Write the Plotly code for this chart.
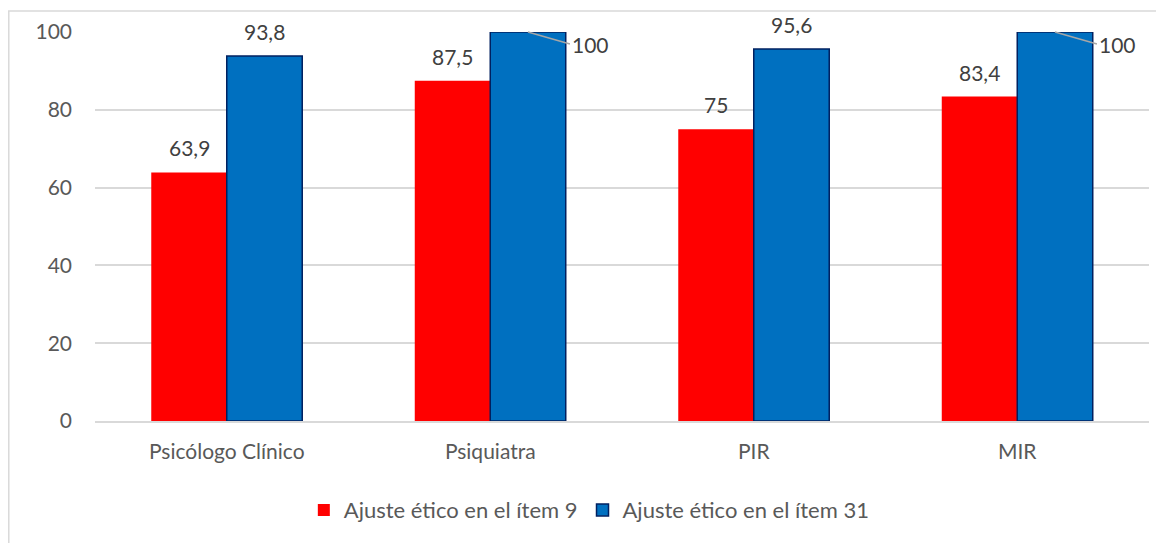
import plotly.graph_objects as go

categories = ["Psicólogo Clínico", "Psiquiatra", "PIR", "MIR"]
item9 = [63.9, 87.5, 75, 83.4]
item31 = [93.8, 100, 95.6, 100]
series_names = ["Ajuste ético en el ítem 9", "Ajuste ético en el ítem 31"]
y_ticks = [0, 20, 40, 60, 80, 100]

FONT = "Lato"
TXT = "#595959"

fig = go.Figure()
fig.add_trace(go.Bar(x=categories, y=item9, name=series_names[0],
                     marker=dict(color="#ff0000", line=dict(width=0))))
fig.add_trace(go.Bar(x=categories, y=item31, name=series_names[1],
                     marker=dict(color="#0070c0", line=dict(color="#002060", width=1.5))))

def fmt(v):
    return ("%g" % v).replace(".", ",")

annotations = []
for i, (a, b) in enumerate(zip(item9, item31)):
    for v, shift in ((a, -0.143), (b, 0.143)):
        if v >= 100:
            annotations.append(dict(x=i + shift, y=v, xref="x", yref="y", text=fmt(v),
                                    showarrow=True, arrowhead=0, arrowcolor="#a6a6a6", arrowwidth=1.5,
                                    ax=42, ay=12, xanchor="left", yanchor="middle",
                                    font=dict(family=FONT, size=21, color="#404040"),
                                    standoff=0, startstandoff=0))
        else:
            annotations.append(dict(x=i + shift, y=v, xref="x", yref="y", text=fmt(v),
                                    showarrow=False, yanchor="bottom", yshift=10,
                                    font=dict(family=FONT, size=21, color="#404040")))

fig.update_layout(
    width=1156, height=535,
    margin=dict(l=87, r=15, t=24, b=122, autoexpand=False),
    paper_bgcolor="white", plot_bgcolor="white",
    barmode="group", bargap=0.427, bargroupgap=0,
    font=dict(family=FONT, size=21, color=TXT),
    xaxis=dict(type="category", showgrid=False, showline=True, linecolor="#d9d9d9", linewidth=1.5,
               ticks="", tickfont=dict(size=21, color=TXT), range=[-0.5, 3.5],
               ticklabelstandoff=11),
    yaxis=dict(range=[0, 100], tickvals=y_ticks, showgrid=True, gridcolor="#d9d9d9", gridwidth=1.5,
               zeroline=False, ticks="", ticklen=0, tickfont=dict(size=21, color=TXT),
               ticklabelstandoff=22),
    legend=dict(orientation="h", x=0.469, xanchor="center", y=-0.229, yanchor="middle",
                font=dict(size=22, color=TXT), itemwidth=30, traceorder="normal"),
    annotations=annotations,
    shapes=[dict(type="rect", xref="paper", yref="paper", x0=-0.0818, x1=1.02, y0=-0.33, y1=1.054,
                 line=dict(color="#d9d9d9", width=1.5), layer="below")],
)

fig.write_html("out.html")
